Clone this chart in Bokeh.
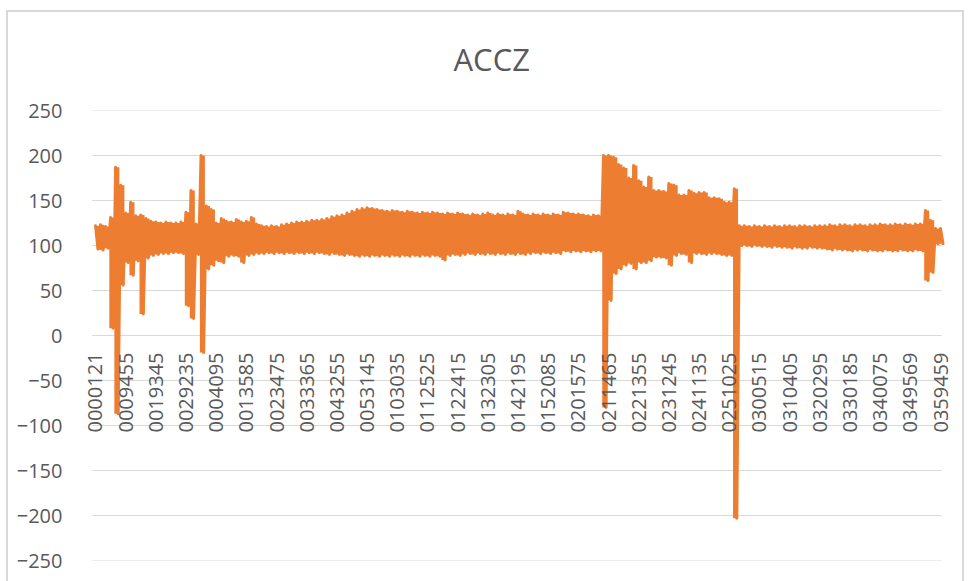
import math
from bokeh.plotting import figure
from bokeh.models import Range1d, FixedTicker, Title
from bokeh.embed import file_html
from bokeh.resources import INLINE

# ---- data (envelope of the dense ACCZ signal) ----
upper = [122, 123, 121, 131, 187, 167, 136, 148, 133, 134,
         130, 127, 126, 125, 126, 125, 125, 126, 137, 161,
         124, 200, 144, 140, 125, 130, 127, 126, 129, 126,
         127, 131, 124, 122, 121, 122, 121, 123, 124, 125,
         126, 126, 127, 128, 128, 129, 130, 132, 133, 134,
         136, 138, 140, 141, 142, 141, 140, 139, 138, 139,
         138, 137, 138, 137, 136, 137, 136, 137, 136, 135,
         136, 135, 136, 135, 134, 135, 134, 135, 136, 134,
         135, 134, 135, 134, 138, 135, 134, 135, 134, 135,
         134, 135, 134, 137, 136, 135, 135, 134, 133, 134,
         133, 200, 200, 198, 190, 186, 175, 189, 172, 165,
         176, 161, 161, 160, 169, 167, 156, 156, 161, 158,
         159, 159, 153, 153, 152, 148, 148, 163, 122, 122,
         121, 122, 121, 122, 121, 122, 121, 122, 122, 121,
         122, 122, 121, 122, 122, 122, 123, 122, 123, 123,
         122, 123, 123, 122, 123, 123, 124, 123, 123, 124,
         123, 124, 123, 124, 124, 139, 128, 119, 119]
lower = [96, 95, 97, 8, -87, 56, 81, 67, 83, 24,
         86, 89, 90, 91, 91, 92, 92, 91, 33, 19,
         90, -19, 74, 78, 83, 81, 88, 89, 88, 81,
         89, 90, 91, 91, 92, 91, 92, 91, 92, 91,
         92, 91, 92, 91, 92, 91, 90, 91, 90, 89,
         90, 89, 88, 89, 88, 89, 88, 89, 88, 89,
         88, 89, 88, 89, 88, 89, 88, 89, 88, 84,
         89, 90, 89, 90, 91, 90, 91, 90, 91, 90,
         91, 90, 91, 90, 91, 90, 91, 92, 91, 92,
         91, 92, 91, 94, 93, 94, 93, 94, 93, 94,
         94, -80, 39, 69, 74, 78, 80, 74, 81, 81,
         83, 87, 87, 86, 78, 89, 91, 90, 81, 91,
         91, 90, 91, 91, 90, 89, 89, -203, 100, 100,
         99, 100, 99, 99, 98, 99, 98, 98, 97, 98,
         97, 97, 98, 97, 97, 96, 95, 96, 95, 95,
         94, 95, 95, 94, 95, 94, 94, 95, 94, 94,
         95, 94, 94, 95, 94, 61, 70, 102, 102]

tick_labels = ["0000121", "0009455", "0019345", "0029235", "0004095",
               "0013585", "0023475", "0033365", "0043255", "0053145",
               "0103035", "0112525", "0122415", "0132305", "0142195",
               "0152085", "0201575", "0211465", "0221355", "0231245",
               "0241135", "0251025", "0300515", "0310405", "0320295",
               "0330185", "0340075", "0349569", "0359459"]
y_ticks = [-250, -200, -150, -100, -50, 0, 50, 100, 150, 200, 250]

# one continuous series: each envelope pair gives a high and a low sample
accz = []
for hi, lo in zip(upper, lower):
    accz.append(hi)
    accz.append(lo)
idx = list(range(len(accz)))
pair_x = [2 * i + 0.5 for i in range(len(upper))]
step = 12  # samples per labelled category
tick_pos = [i * step for i in range(len(tick_labels))]

# plot-area extent in index units (gridlines span this)
grid_x0, grid_x1 = -1.2, 336.4

TEXT = "#595959"
GRID = "#d9d9d9"
FONT = "Open Sans"
ORANGE = "#ED7D31"

p = figure(width=969, height=581, output_backend="svg", toolbar_location=None,
           x_range=Range1d(-5.96, 341.96), y_range=Range1d(-250, 250),
           min_border_left=80, min_border_right=14, min_border_top=110,
           min_border_bottom=21, background_fill_color=None,
           border_fill_color=None, outline_line_color=None)
g = "linear-gradient(#d9d9d9,#d9d9d9)"
p.styles = {"background": (f"{g} 6px 10px / 958px 2px no-repeat, "
                           f"{g} 6px 10px / 2px 580px no-repeat, "
                           f"{g} 962px 10px / 2px 580px no-repeat, white")}

p.add_layout(Title(text="ACCZ", align="left", text_font=FONT,
                   text_font_size="31px", text_font_style="normal",
                   text_color=TEXT, standoff=62, offset=373), "above")

# horizontal gridlines
p.segment(x0=[grid_x0] * len(y_ticks), x1=[grid_x1] * len(y_ticks),
          y0=y_ticks, y1=y_ticks, line_color=GRID, line_width=1)

# the signal: dense band + line through the samples
p.varea_step(x=pair_x, y1=lower, y2=upper, step_mode="center", fill_color=ORANGE)
p.line(idx, accz, line_color=ORANGE, line_width=3,
       line_join="round", line_cap="round")

# y axis
p.yaxis.ticker = FixedTicker(ticks=y_ticks)
p.yaxis.axis_line_color = None
p.yaxis.major_tick_line_color = None
p.yaxis.minor_tick_line_color = None
p.yaxis.major_label_text_font = FONT
p.yaxis.major_label_text_font_size = "20px"
p.yaxis.major_label_text_color = TEXT
p.yaxis.major_label_standoff = 12

# x axis at y = 0 with vertical category labels
p.xaxis.fixed_location = 0
p.xaxis.ticker = FixedTicker(ticks=tick_pos)
p.xaxis.major_label_overrides = {t: lab for t, lab in zip(tick_pos, tick_labels)}
p.xaxis.major_label_orientation = math.pi / 2
p.xaxis.axis_line_color = None
p.xaxis.major_tick_line_color = None
p.xaxis.minor_tick_line_color = None
p.xaxis.major_label_text_font = FONT
p.xaxis.major_label_text_font_size = "20px"
p.xaxis.major_label_text_color = TEXT
p.xaxis.major_label_standoff = 11

p.xgrid.grid_line_color = None
p.ygrid.grid_line_color = None

open("out.html", "w").write(file_html(p, INLINE))
